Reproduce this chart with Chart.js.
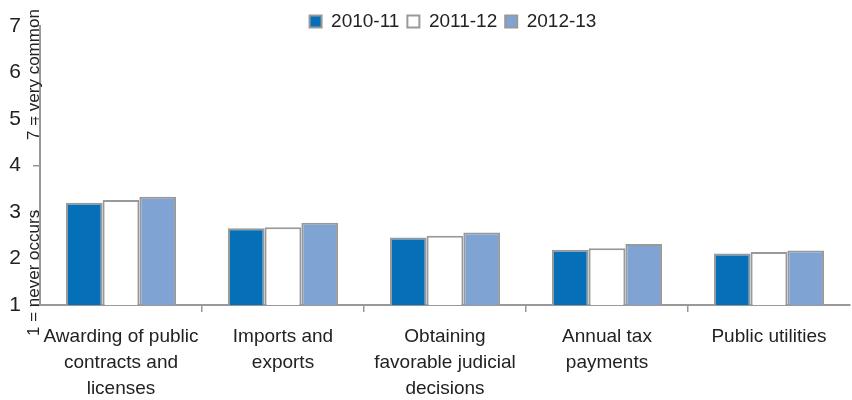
<!DOCTYPE html>
<html>
<head>
<meta charset="utf-8">
<script src="https://cdn.jsdelivr.net/npm/chart.js@4.4.1/dist/chart.umd.min.js"></script>
<style>
  html, body { margin: 0; padding: 0; background: #fff; }
  #wrap { width: 852px; height: 400px; }
</style>
</head>
<body>
<div id="wrap"><canvas id="myChart"></canvas></div>
<script>
// data
const categories = [
  ["Awarding of public", "contracts and", "licenses"],
  ["Imports and", "exports"],
  ["Obtaining", "favorable judicial", "decisions"],
  ["Annual tax", "payments"],
  ["Public utilities"],
];
const years = ["2010-11", "2011-12", "2012-13"];
const values2010 = [3.2, 2.65, 2.45, 2.19, 2.11];
const values2011 = [3.26, 2.67, 2.49, 2.22, 2.14];
const values2012 = [3.33, 2.77, 2.56, 2.31, 2.17];
const yTicks = [1, 2, 3, 4, 5, 6, 7];

const font = "'Liberation Sans', Arial, sans-serif";
const grey = "#999999";
const textColor = "#222222";

// rotated axis captions at both ends of the scale
const axisCaptions = {
  id: "axisCaptions",
  afterLayout(chart) {
    // nudge the legend a little right of the plot centre,
    // and let it hang over the top of the plot so the text isn't clipped
    chart.legend.left += 8;
    chart.legend.right += 8;
    chart.legend.bottom += 12;
    chart.legend.height += 12;
  },
  afterDraw(chart) {
    const c = chart.ctx;
    c.save();
    c.font = "17px " + font;
    c.fillStyle = textColor;
    c.textBaseline = "middle";
    c.textAlign = "left";
    c.translate(34, 0);
    c.rotate(-Math.PI / 2);
    c.fillText("1 = never occurs", -336, 0);
    c.fillText("7 = very common", -140, 0);
    c.restore();
  },
};

const ctx = document.getElementById("myChart");

new Chart(ctx, {
  type: "bar",
  data: {
    labels: categories,
    datasets: [
      {
        label: years[0],
        data: values2010,
        backgroundColor: "#0570b8",
        borderColor: grey,
        borderWidth: 2,
      },
      {
        label: years[1],
        data: values2011,
        backgroundColor: "#ffffff",
        borderColor: grey,
        borderWidth: 2,
      },
      {
        label: years[2],
        data: values2012,
        backgroundColor: "#7fa3d3",
        borderColor: grey,
        borderWidth: 2,
      },
    ],
  },
  options: {
    responsive: true,
    maintainAspectRatio: false,
    animation: false,
    layout: {
      padding: { top: 4, right: 2, left: 0, bottom: 0 },
    },
    datasets: {
      bar: {
        categoryPercentage: 0.68,
        barPercentage: 1,
      },
    },
    plugins: {
      legend: {
        position: "top",
        fullSize: false,
        maxHeight: 22,
        labels: {
          boxWidth: 12,
          boxHeight: 12,
          padding: 8,
          color: textColor,
          font: { family: font, size: 19 },
        },
      },
      tooltip: { enabled: false },
    },
    scales: {
      x: {
        afterFit(scale) {
          scale.height = 95;
        },
        grid: {
          offset: true,
          drawOnChartArea: false,
          drawTicks: true,
          tickLength: 7,
          // no marks at the two ends of the axis
          color: (c) => (c.index === undefined || c.index === 0 ? "rgba(0,0,0,0)" : grey),
          lineWidth: 1.5,
        },
        border: { color: grey, width: 2 },
        ticks: {
          color: textColor,
          padding: 12,
          maxRotation: 0,
          autoSkip: false,
          font: { family: font, size: 19, lineHeight: 1.37 },
        },
      },
      y: {
        min: 1,
        max: 7,
        afterFit(scale) {
          scale.width = 40;
        },
        afterBuildTicks(scale) {
          scale.ticks = yTicks.map((v) => ({ value: v }));
        },
        grid: {
          drawOnChartArea: false,
          drawTicks: true,
          tickLength: 7,
          color: grey,
          lineWidth: 1.5,
        },
        border: { color: grey, width: 2 },
        ticks: {
          color: textColor,
          padding: 12,
          font: { family: font, size: 21 },
        },
      },
    },
  },
  plugins: [axisCaptions],
});
</script>
</body>
</html>
